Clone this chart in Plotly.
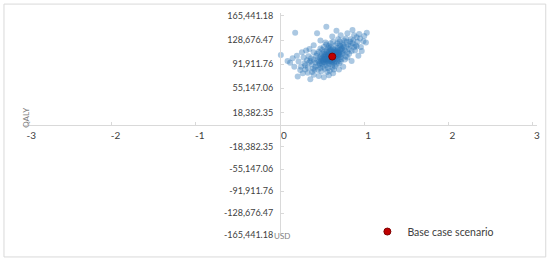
import plotly.graph_objects as go

# probabilistic sensitivity analysis runs (incremental cost in USD, QALY)
psa_usd = [
    0.62, 0.58, 0.66, 0.55, 0.70, 0.60, 0.52, 0.64, 0.68, 0.57, 0.49, 0.73, 0.61, 0.54, 0.67,
    0.59, 0.63, 0.71, 0.50, 0.56, 0.65, 0.74, 0.47, 0.69, 0.53, 0.60, 0.58, 0.66, 0.62, 0.51,
    0.72, 0.57, 0.48, 0.64, 0.55, 0.76, 0.45, 0.68, 0.61, 0.59, 0.70, 0.53, 0.63, 0.56, 0.67,
    0.50, 0.74, 0.58, 0.46, 0.65, 0.72, 0.54, 0.60, 0.62, 0.77, 0.44, 0.69, 0.57, 0.66, 0.52,
    0.71, 0.49, 0.64, 0.59, 0.75, 0.55, 0.61, 0.68, 0.47, 0.63,
    0.38, 0.42, 0.35, 0.40, 0.33, 0.43, 0.37, 0.30, 0.41, 0.36, 0.44, 0.39, 0.32, 0.45, 0.34,
    0.42, 0.48, 0.40, 0.29, 0.46, 0.51, 0.53, 0.50, 0.55, 0.57, 0.48, 0.52, 0.58, 0.55, 0.60,
    0.62, 0.65, 0.66, 0.68, 0.70, 0.72, 0.63, 0.74, 0.78, 0.80, 0.79, 0.82, 0.81, 0.84, 0.77,
    0.85, 0.83, 0.86, 0.76, 0.88, 0.80, 0.87, 0.90, 0.71, 0.73, 0.79, 0.89, 0.67, 0.75, 0.82,
    0.92, 0.84, 0.91, 0.69, 0.78, 0.64, 0.59, 0.56, 0.49, 0.54, 0.57,
    0.18, 0.55, 1.03, 0.01, 0.21, 0.36, 0.27, 0.15, 0.22, 0.25, 0.20, 0.12, 0.26, 0.31, 0.28,
    0.24, 0.33, 0.40, 0.46, 0.52, 0.58, 0.63, 0.70, 0.75, 0.85, 0.93, 0.97, 0.95, 0.99, 1.00,
    0.94, 0.88, 0.80, 0.72, 0.62, 0.48, 0.40, 0.35, 0.44, 0.67, 0.86, 0.17, 0.30, 0.09, 0.38,
    0.96, 1.02, 0.91,
    0.60, 0.63, 0.57, 0.65, 0.61, 0.54, 0.67, 0.59, 0.62, 0.56, 0.64, 0.69, 0.52, 0.66, 0.58,
    0.60, 0.55, 0.65, 0.62, 0.58, 0.68, 0.52, 0.57, 0.63, 0.70, 0.50, 0.61, 0.66, 0.54, 0.59,
    0.64, 0.71, 0.56, 0.62, 0.67, 0.48, 0.73, 0.53, 0.60, 0.65, 0.57, 0.69, 0.51, 0.63, 0.58,
]
psa_qaly = [
    105000, 102000, 108000, 99000, 110000, 97000, 104000, 113000, 101000, 108000, 97000, 115000,
    110000, 94000, 104000, 115000, 99000, 106000, 101000, 111000, 96000, 112000, 93000, 117000,
    107000, 103000, 92000, 114000, 100000, 96000, 103000, 105000, 100000, 107000, 113000, 118000,
    90000, 110000, 95000, 108000, 99000, 102000, 116000, 97000, 112000, 108000, 107000, 111000,
    96000, 102000, 119000, 105000, 118000, 91000, 113000, 98000, 105000, 99000, 100000, 110000,
    121000, 104000, 94000, 101000, 109000, 107000, 114000, 96000, 102000, 110000,
    92000, 88000, 95000, 99000, 87000, 105000, 101000, 90000, 84000, 97000, 108000, 85000,
    98000, 83000, 104000, 94000, 86000, 110000, 93000, 111000, 88000, 85000, 114000, 90000,
    86000, 116000, 118000, 120000, 122000, 124000, 87000, 89000, 121000, 124000, 93000, 96000,
    126000, 124000, 104000, 110000, 118000, 115000, 122000, 120000, 99000, 112000, 126000, 124000,
    128000, 118000, 102000, 128000, 121000, 127000, 100000, 126000, 113000, 92000, 121000, 108000,
    126000, 130000, 119000, 130000, 131000, 84000, 82000, 80000, 81000, 125000, 117000,
    140000, 149000, 140000, 106000, 73000, 69000, 78000, 101000, 96000, 88000, 105000, 94000,
    110000, 113000, 102000, 83000, 79000, 76000, 74000, 72000, 75000, 78000, 84000, 88000,
    97000, 105000, 112000, 131000, 127000, 135000, 138000, 136000, 139000, 136000, 134000, 128000,
    121000, 115000, 139000, 143000, 144000, 88000, 84000, 97000, 80000, 118000, 125000, 133000,
    104000, 106000, 103000, 106000, 101000, 100000, 109000, 104000, 98000, 103000, 110000, 107000,
    99000, 105000, 106000,
    101000, 98000, 109000, 106000, 104000, 112000, 95000, 102000, 99000, 108000, 93000, 107000,
    111000, 100000, 97000, 104000, 114000, 103000, 96000, 106000, 91000, 116000, 99000, 112000,
    101000, 94000, 109000, 98000, 103000, 100000,
]

base_usd = [0.62]
base_qaly = [103600]

x_ticks = [-3, -2, -1, 0, 1, 2, 3]
x_labels = ["-3", "-2", "-1", "0", "1", "2", "3"]
y_pos_ticks = [165441.18, 128676.47, 91911.76, 55147.06, 18382.35]
y_pos_labels = ["165,441.18", "128,676.47", "91,911.76", "55,147.06", "18,382.35"]
y_neg_ticks = [-18382.35, -55147.06, -91911.76, -128676.47, -165441.18]
y_neg_labels = ["-18,382.35", "-55,147.06", "-91,911.76", "-128,676.47", "-165,441.18"]

axis_grey = "#d9d9d9"
text_grey = "#404040"

fig = go.Figure()
fig.add_trace(go.Scatter(
    x=psa_usd, y=psa_qaly, mode="markers", showlegend=False,
    marker=dict(size=6, color="rgba(46,117,182,0.4)", line=dict(width=0)),
))
fig.add_trace(go.Scatter(
    x=base_usd, y=base_qaly, mode="markers", name="Base case scenario",
    marker=dict(size=7, color="#c00000", line=dict(color="#7f0000", width=1)),
))
# empty trace so the lower (negative) half of the vertical axis is drawn
fig.add_trace(go.Scatter(x=[], y=[], yaxis="y2", showlegend=False, hoverinfo="skip"))

common_y = dict(
    anchor="free", position=0.5, showgrid=False, zeroline=False,
    showline=True, linecolor=axis_grey, linewidth=1,
    ticks="inside", ticklen=3, tickcolor=axis_grey, ticklabelstandoff=5,
)

fig.update_layout(
    width=550, height=262,
    margin=dict(l=23, r=10, t=13, b=26),
    paper_bgcolor="white", plot_bgcolor="white",
    font=dict(family="Lato", size=9, color=text_grey),
    xaxis=dict(
        range=[-3.05, 3.05], anchor="free", position=0.5,
        showgrid=False, zeroline=False, showline=True, linecolor=axis_grey, linewidth=1,
        tickvals=x_ticks, ticktext=x_labels, ticks="inside", ticklen=3, tickcolor=axis_grey,
        ticklabelshift=4, ticklabelstandoff=1, tickfont=dict(size=10),
    ),
    yaxis=dict(domain=[0.5, 1], range=[0, 170000],
               tickvals=y_pos_ticks, ticktext=y_pos_labels, **common_y),
    yaxis2=dict(domain=[0, 0.5], range=[-167100, 19200],
                tickvals=y_neg_ticks, ticktext=y_neg_labels, **common_y),
    legend=dict(x=0.67, y=0.02, xanchor="left", yanchor="middle",
                bgcolor="rgba(0,0,0,0)", font=dict(size=10.5, color=text_grey)),
    annotations=[
        dict(text="QALY", xref="paper", yref="paper", x=-0.008, y=0.53, textangle=-90,
             showarrow=False, font=dict(size=8, color="#7f7f7f")),
        dict(text="USD", xref="paper", yref="paper", x=0.503, y=-0.03,
             showarrow=False, font=dict(size=8, color="#7f7f7f")),
    ],
    shapes=[
        dict(type="rect", xref="paper", yref="paper", x0=-0.037, x1=1.017, y0=-0.094, y1=1.04,
             line=dict(color=axis_grey, width=1)),
    ],
)

fig.write_html("out.html", config={"displayModeBar": False},
               post_script="document.body.style.margin='0';")
